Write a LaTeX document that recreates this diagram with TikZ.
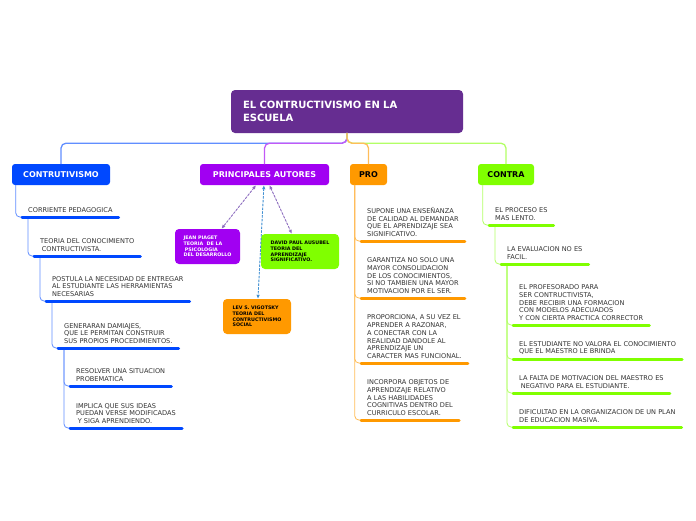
\documentclass[tikz,border=0pt]{standalone}
\usepackage{fontspec}
\setmainfont{DejaVu Sans}
\usepackage{tikz}
\usetikzlibrary{arrows.meta}
\definecolor{MapRoot}{HTML}{662D91}
\definecolor{MapBlue}{HTML}{0048FF}
\definecolor{MapPurple}{HTML}{A100F2}
\definecolor{MapOrange}{HTML}{FF9900}
\definecolor{MapGreen}{HTML}{80FF00}
\definecolor{MapText}{HTML}{333333}
\definecolor{MapDash}{HTML}{8E6FC0}
\definecolor{MapDashBlue}{HTML}{3F8FD2}
\colorlet{MapBlueLine}{MapBlue!62}
\colorlet{MapPurpleLine}{MapPurple!65}
\colorlet{MapOrangeLine}{MapOrange!65}
\colorlet{MapGreenLine}{MapGreen!60}
\tikzset{
  >=Latex,
  every picture/.style = {line join=round, line cap=round},
  topic/.style = {
    fill=MapRoot,
    rounded corners=4pt,
    text=white,
    font=\fontsize{10}{13}\selectfont\bfseries,
    align=left,
    text width=208pt,
    inner xsep=12pt,
    minimum height=43pt
  },
  branch/.style = {rounded corners=3pt, minimum height=21pt, inner sep=2pt, font=\fontsize{8}{10}\selectfont\bfseries},
  branch blue/.style = {branch, fill=MapBlue, text=white},
  branch purple/.style = {branch, fill=MapPurple, text=white},
  branch orange/.style = {branch, fill=MapOrange, text=black},
  branch green/.style = {branch, fill=MapGreen, text=black},
  author box/.style = {rounded corners=4pt, minimum height=35pt, align=left, inner sep=2pt, font=\fontsize{4.8}{5.8}\selectfont\bfseries},
  author purple/.style = {author box, fill=MapPurple, text=white},
  author green/.style = {author box, fill=MapGreen, text=black},
  author orange/.style = {author box, fill=MapOrange, text=black},
  leaf/.style = {anchor=south west, align=left, inner xsep=6pt, inner ysep=4pt, text=MapText, font=\fontsize{6.6}{7.8}\selectfont},
  underbar/.style = {line width=3pt, line cap=round},
  underbar blue/.style = {underbar, draw=MapBlue},
  underbar orange/.style = {underbar, draw=MapOrange},
  underbar green/.style = {underbar, draw=MapGreen},
  stem/.style = {line width=0.8pt, rounded corners=4pt},
  stem blue/.style = {stem, draw=MapBlueLine},
  stem orange/.style = {stem, draw=MapOrangeLine},
  stem green/.style = {stem, draw=MapGreenLine},
  branch line/.style = {line width=1.3pt, rounded corners=5pt},
  relation/.style = {dash pattern=on 2pt off 1.8pt, line width=0.9pt, {Latex[length=4pt,width=3.5pt]}-{Latex[length=4pt,width=3.5pt]}},
}
\begin{document}
\begin{tikzpicture}[x=1pt,y=-1pt]
  \path[use as bounding box, fill=white] (0,0) rectangle (696,520);

  \node[topic] (root) at (347,111.5) {EL CONTRUCTIVISMO EN LA\\ESCUELA};

  \node[branch blue, minimum width=98pt] (cont) at (61,174.5) {CONTRUTIVISMO};
  \node[branch purple, minimum width=129pt] (auth) at (264.5,174.5) {PRINCIPALES AUTORES};
  \node[branch orange, minimum width=37pt] (pro) at (368.5,174.5) {PRO};
  \node[branch green, minimum width=56pt] (contra) at (506,174.5) {CONTRA};

  \draw[branch line, draw=MapBlueLine] (root.south) -- ++(0,10) -| (cont.north);
  \draw[branch line, draw=MapPurpleLine] (root.south) -- ++(0,10) -| (auth.north);
  \draw[branch line, draw=MapGreenLine] (root.south) -- ++(0,10) -| (contra.north);
  \draw[branch line, draw=MapOrangeLine] (root.south) -- ++(0,10) -| (pro.north);

  % autores
  \node[author purple, minimum width=65pt] (piaget) at (207.5,246.5) {JEAN PIAGET\\TEORIA\ \ DE LA\\\hspace*{0.3em}PSICOLOGIA\\DEL DESARROLLO};
  \node[author green, minimum width=78pt] (ausubel) at (300,251.5) {DAVID PAUL AUSUBEL\\TEORIA DEL\\APRENDIZAJE\\SIGNIFICATIVO.};
  \node[author orange, minimum width=68pt] (vigotsky) at (257,316.5) {LEV S. VIGOTSKY\\TEORIA DEL\\CONTRUCTIVISMO\\SOCIAL};

  \draw[relation, draw=MapDash, fill=MapDash] (auth) -- (piaget);
  \draw[relation, draw=MapDash, fill=MapDash] (auth) -- (ausubel);
  \draw[relation, draw=MapDashBlue] (auth) -- (vigotsky);

  % contructivismo
  \node[leaf] (c1) at (22,217) {CORRIENTE PEDAGOGICA};
  \node[leaf] (c2) at (34,256) {TEORIA DEL CONOCIMIENTO\\\hspace*{0.25em}CONTRUCTIVISTA.};
  \node[leaf] (c3) at (46,301) {POSTULA LA NECESIDAD DE ENTREGAR\\AL ESTUDIANTE LAS HERRAMIENTAS\\NECESARIAS};
  \node[leaf] (c4) at (58,348) {GENERARAN DAMIAJES,\\QUE LE PERMITAN CONSTRUIR\\SUS PROPIOS PROCEDIMIENTOS.};
  \node[leaf] (c5) at (70,386) {RESOLVER UNA SITUACION\\PROBEMATICA};
  \node[leaf] (c6) at (70,428) {IMPLICA QUE SUS IDEAS\\PUEDAN VERSE MODIFICADAS\\\hspace*{0.25em}Y SIGA APRENDIENDO.};

  \draw[stem blue] ([xshift=4pt]cont.south west) |- (c1.south west);
  \draw[stem blue] ([xshift=6pt]c1.south west) |- (c2.south west);
  \draw[stem blue] ([xshift=6pt]c2.south west) |- (c3.south west);
  \draw[stem blue] ([xshift=6pt]c3.south west) |- (c4.south west);
  \draw[stem blue] ([xshift=6pt]c4.south west) |- (c5.south west);
  \draw[stem blue] ([xshift=6pt]c4.south west) |- (c6.south west);
  \foreach \n in {c1,c2,c3,c4,c5,c6}
    \draw[underbar blue] (\n.south west) -- (\n.south east);

  % pro
  \node[leaf] (p1) at (361,241) {SUPONE UNA ENSEÑANZA\\DE CALIDAD AL DEMANDAR\\QUE EL APRENDIZAJE SEA\\SIGNIFICATIVO.};
  \node[leaf] (p2) at (361,298) {GARANTIZA NO SOLO UNA\\MAYOR CONSOLIDACION\\DE LOS CONOCIMIENTOS,\\SI NO TAMBIEN UNA MAYOR\\MOTIVACION POR EL SER.};
  \node[leaf] (p3) at (361,363) {PROPORCIONA, A SU VEZ EL\\APRENDER A RAZONAR,\\A CONECTAR CON LA\\REALIDAD DANDOLE AL\\APRENDIZAJE UN\\CARACTER MAS FUNCIONAL.};
  \node[leaf] (p4) at (361,420) {INCORPORA OBJETOS DE\\APRENDIZAJE RELATIVO\\A LAS HABILIDADES\\COGNITIVAS DENTRO DEL\\CURRICULO ESCOLAR.};

  \foreach \n in {p1,p2,p3,p4}
    \draw[stem orange] ([xshift=5pt]pro.south west) |- (\n.south west);
  \foreach \n in {p1,p2,p3,p4}
    \draw[underbar orange] (\n.south west) -- (\n.south east);

  % contra
  \node[leaf] (k1) at (489,225) {EL PROCESO ES\\MAS LENTO.};
  \node[leaf] (k2) at (501,264) {LA EVALUACION NO ES\\FACIL.};
  \node[leaf] (k3) at (513,325) {EL PROFESORADO PARA\\SER CONTRUCTIVISTA,\\DEBE RECIBIR UNA FORMACION\\CON MODELOS ADECUADOS\\Y CON CIERTA PRACTICA CORRECTOR};
  \node[leaf] (k4) at (513,359) {EL ESTUDIANTE NO VALORA EL CONOCIMIENTO\\QUE EL MAESTRO LE BRINDA};
  \node[leaf] (k5) at (513,393) {LA FALTA DE MOTIVACION DEL MAESTRO ES\\\hspace*{0.25em}NEGATIVO PARA EL ESTUDIANTE.};
  \node[leaf] (k6) at (513,427) {DIFICULTAD EN LA ORGANIZACION DE UN PLAN\\DE EDUCACION MASIVA.};

  \draw[stem green] ([xshift=5pt]contra.south west) |- (k1.south west);
  \draw[stem green] ([xshift=6pt]k1.south west) |- (k2.south west);
  \foreach \n in {k3,k4,k5,k6}
    \draw[stem green] ([xshift=6pt]k2.south west) |- (\n.south west);
  \foreach \n in {k1,k2,k3,k4,k5,k6}
    \draw[underbar green] (\n.south west) -- (\n.south east);
\end{tikzpicture}
\end{document}
